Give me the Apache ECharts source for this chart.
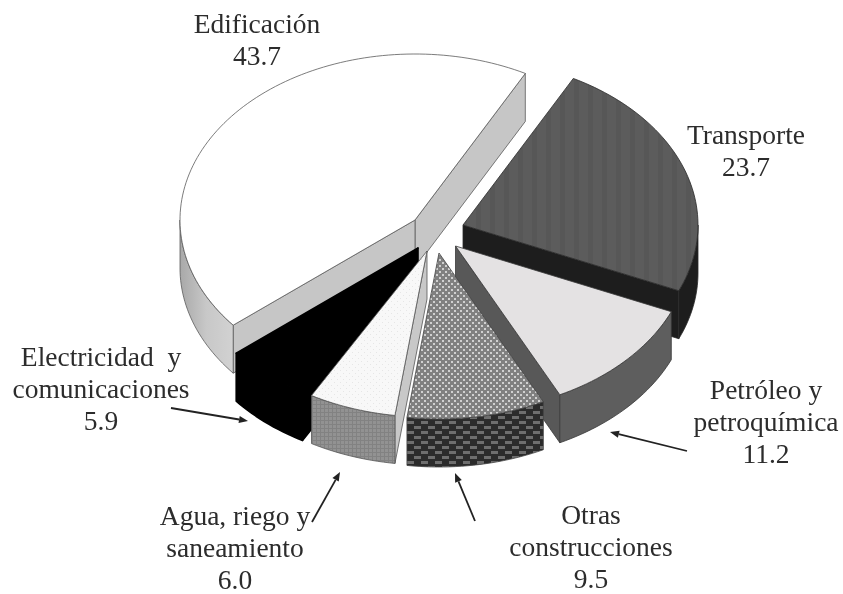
<!DOCTYPE html>
<html><head><meta charset="utf-8">
<style>html,body{margin:0;padding:0;background:#fff}#c{width:843px;height:594px;filter:blur(0.7px)}</style>
<script src="https://cdn.jsdelivr.net/npm/echarts@6/dist/echarts.min.js"></script>
</head><body><div id="c"></div>
<script>
// Data, in pie order (counter-clockwise from the first slice edge)
const categories = ['Edificación','Electricidad  y\ncomunicaciones','Agua, riego y\nsaneamiento','Otras\nconstrucciones','Petróleo y\npetroquímica','Transporte'];
const shares = [43.7,5.9,6.0,9.5,11.2,23.7];

// Drawing parameters (kept apart from the data)
const startDeg = 62, rx = 235, ry = 166, depth = 48;
const apexes = [[415,220],[418,248],[427,251],[439,253],[455.5,246],[463,225]];
const paintRank = [0,2,3,5,4,1];
const labelAt = [[257,42],[101,391],[235,550],[591,549],[766,424],[746,153]];
const arrows = [[[171,408],[248,421]],[[312,522],[340,472]],[[475,521],[455,473]],[[687,451],[610,432]]];

function tile(w,h,draw){const c=document.createElement('canvas');c.width=w;c.height=h;draw(c.getContext('2d'));return {image:c,repeat:'repeat'};}
const stripes = tile(14,4,g=>{g.fillStyle='#5c5c5c';g.fillRect(0,0,14,4);g.fillStyle='#575757';g.fillRect(0,0,5,4);});
const dotsGray = tile(6,6,g=>{g.fillStyle='#808080';g.fillRect(0,0,6,6);g.fillStyle='#d0d0d0';g.fillRect(1,1,2,2);g.fillRect(4,4,2,2);});
const dotsPale = tile(6,6,g=>{g.fillStyle='#f8f8f8';g.fillRect(0,0,6,6);g.fillStyle='#e6e6e6';g.fillRect(1,1,1,1);g.fillRect(4,4,1,1);});
const weave = tile(14,10,g=>{g.fillStyle='#2b2b2b';g.fillRect(0,0,14,10);g.fillStyle='#6e6e6e';g.fillRect(1,1,7,3);g.fillRect(8,6,6,3);g.fillRect(0,6,1,3);});
const gridGray = tile(4,4,g=>{g.fillStyle='#929292';g.fillRect(0,0,4,4);g.fillStyle='#828282';g.fillRect(0,0,1,4);g.fillRect(0,0,4,1);});
const edifOuter = {type:'linear',x:0,y:0,x2:1,y2:0,colorStops:[{offset:0,color:'#a8a8a8'},{offset:.5,color:'#c8c8c8'},{offset:1,color:'#d2d2d2'}]};
const looks = [
 {top:'#ffffff',side:'#c6c6c6',outer:edifOuter,stroke:'#5a5a5a',lw:0.8},
 {top:'#000000',side:'#000000',outer:'#000000',stroke:'#000000',lw:1.6},
 {top:dotsPale,side:'#c8c8c8',outer:gridGray,stroke:'#555555',lw:0.8},
 {top:dotsGray,side:'#888888',outer:weave,stroke:'#444444',lw:0.8},
 {top:'#e4e2e3',side:'#585858',outer:'#5e5e5e',stroke:'#3a3a3a',lw:0.8},
 {top:stripes,side:'#1d1d1d',outer:'#1d1d1d',stroke:'#2a2a2a',lw:0.8}
];

const total = shares.reduce((a,b)=>a+b,0);
const bounds = []; let run = startDeg;
shares.forEach(v=>{const next=run+v/total*360;bounds.push([run,next]);run=next;});
const rad = d=>d*Math.PI/180;
const rim = (a,deg,dy)=>[a[0]+rx*Math.cos(rad(deg)),a[1]-ry*Math.sin(rad(deg))+(dy||0)];
function arc(a,from,to,dy){const n=Math.max(2,Math.ceil(Math.abs(to-from)/1.5));const p=[];for(let i=0;i<=n;i++)p.push(rim(a,from+(to-from)*i/n,dy));return p;}

function renderSlice(params,api){
  const i=params.dataIndex, a=apexes[i], [s,e]=bounds[i], l=looks[i], z=paintRank[i]*10;
  const kids=[];
  const base={lineWidth:l.lw,stroke:l.stroke,lineJoin:'round'};
  const add=(pts,fill,o)=>kids.push({type:'polygon',z2:z+o,shape:{points:pts},style:Object.assign({fill},base)});
  const drop=[a[0],a[1]+depth];
  // radial side walls that face the viewer
  if(Math.sin(rad(s-90))<0) add([a,rim(a,s),rim(a,s,depth),drop],l.side,1);
  if(Math.sin(rad(e+90))<0) add([a,rim(a,e),rim(a,e,depth),drop],l.side,1);
  // outer wall: only the front half of the rim
  for(const k of [0,360]){
    const f=Math.max(s,180+k), t=Math.min(e,360+k);
    if(t>f) add(arc(a,f,t,0).concat(arc(a,t,f,depth)),l.outer,2);
  }
  // top face
  add([a].concat(arc(a,s,e,0)),l.top,3);
  return {type:'group',children:kids};
}
function renderLabel(params,api){
  const i=params.dataIndex, p=labelAt[i];
  return {type:'text',x:p[0],y:p[1],z2:100,style:{
    text:categories[i]+'\n'+api.value(0).toFixed(1),
    font:'27.5px "Liberation Serif"',fill:'#2c2c2c',align:'center',verticalAlign:'middle',lineHeight:32}};
}
function renderArrow(params,api){
  const [b,h]=arrows[params.dataIndex];
  const t=Math.atan2(h[1]-b[1],h[0]-b[0]), L=9, W=3.6;
  const nx=h[0]-L*Math.cos(t), ny=h[1]-L*Math.sin(t);
  return {type:'group',children:[
    {type:'line',z2:90,shape:{x1:b[0],y1:b[1],x2:nx,y2:ny},style:{stroke:'#222222',lineWidth:1.8}},
    {type:'polygon',z2:90,shape:{points:[h,[nx-W*Math.sin(t),ny+W*Math.cos(t)],[nx+W*Math.sin(t),ny-W*Math.cos(t)]]},style:{fill:'#222222'}}
  ]};
}
const chart=echarts.init(document.getElementById('c'),null,{renderer:'canvas'});
chart.setOption({
  animation:false,backgroundColor:'#ffffff',
  series:[
    {type:'custom',coordinateSystem:'none',renderItem:renderSlice,data:shares.map((v,i)=>({name:categories[i],value:[v]})),silent:true},
    {type:'custom',coordinateSystem:'none',renderItem:renderLabel,data:shares.map((v,i)=>({name:categories[i],value:[v]})),silent:true},
    {type:'custom',coordinateSystem:'none',renderItem:renderArrow,data:arrows.map((_,i)=>[i]),silent:true}
  ]
});
</script></body></html>
